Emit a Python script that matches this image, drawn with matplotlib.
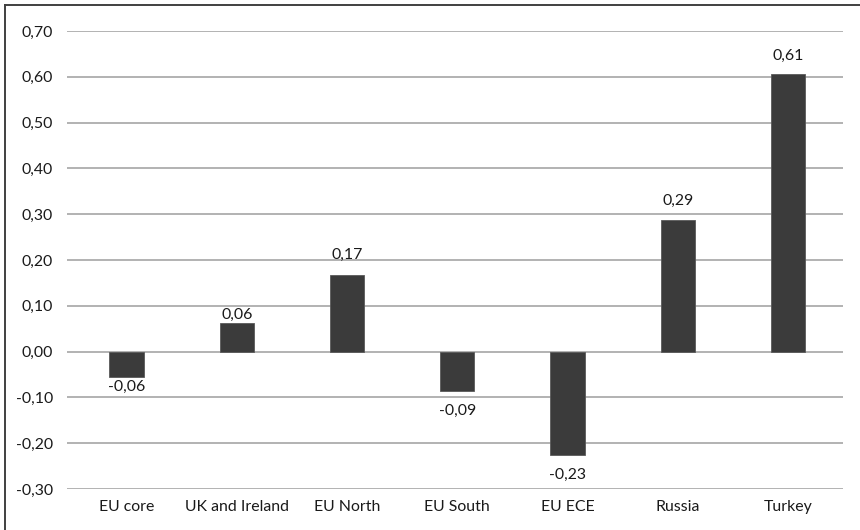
import matplotlib.pyplot as plt
from matplotlib.lines import Line2D

regions = ["EU core", "UK and Ireland", "EU North", "EU South", "EU ECE", "Russia", "Turkey"]
values = [-0.055, 0.062, 0.168, -0.086, -0.226, 0.287, 0.606]
yticks = [-0.30, -0.20, -0.10, 0.00, 0.10, 0.20, 0.30, 0.40, 0.50, 0.60, 0.70]

# label distance from the bar end, in points (two labels sit closer)
label_gap = [7, 6, 14, 14, 14, 14, 13]

plt.rcParams['font.family'] = ['Lato', 'DejaVu Sans']
txt = '#1a1a1a'
fs = 11.4

fig = plt.figure(figsize=(8.6, 5.3), dpi=100)
W, H = 860, 530
ax = fig.add_axes([67 / W, 1 - 489 / H, (843 - 67) / W, (489 - 31) / H])

x = list(range(len(regions)))
ax.bar(x, values, width=0.31, color='#3b3b3b', edgecolor='#5a5a5a', linewidth=0.6, zorder=3)

for xi, v, g in zip(x, values, label_gap):
    off = g if v >= 0 else -g
    ax.annotate(f"{v:.2f}".replace('.', ','), (xi, v), xytext=(0, off),
                textcoords='offset points', ha='center', va='center',
                fontsize=fs, color=txt)

ax.set_ylim(-0.30, 0.70)
ax.set_xlim(-0.54, 6.5)
ax.set_yticks(yticks)
ax.set_yticklabels([f"{t:.2f}".replace('.', ',') for t in yticks])
ax.set_xticks(x)
ax.set_xticklabels(regions)
ax.tick_params(axis='both', length=0, labelsize=fs, colors=txt)
ax.tick_params(axis='y', pad=10)
ax.tick_params(axis='x', pad=8)
ax.grid(axis='y', color='#a6a6a6', linewidth=1.2, zorder=0)
for s in ax.spines.values():
    s.set_visible(False)

# outer chart border (right and bottom are cropped in the original)
fig.add_artist(Line2D([5 / W, 5 / W], [0, 1 - 5 / H], color='#404040', linewidth=1.4))
fig.add_artist(Line2D([5 / W, 1], [1 - 5 / H, 1 - 5 / H], color='#404040', linewidth=1.4))

fig.savefig('out.png', dpi=100, facecolor='white')
